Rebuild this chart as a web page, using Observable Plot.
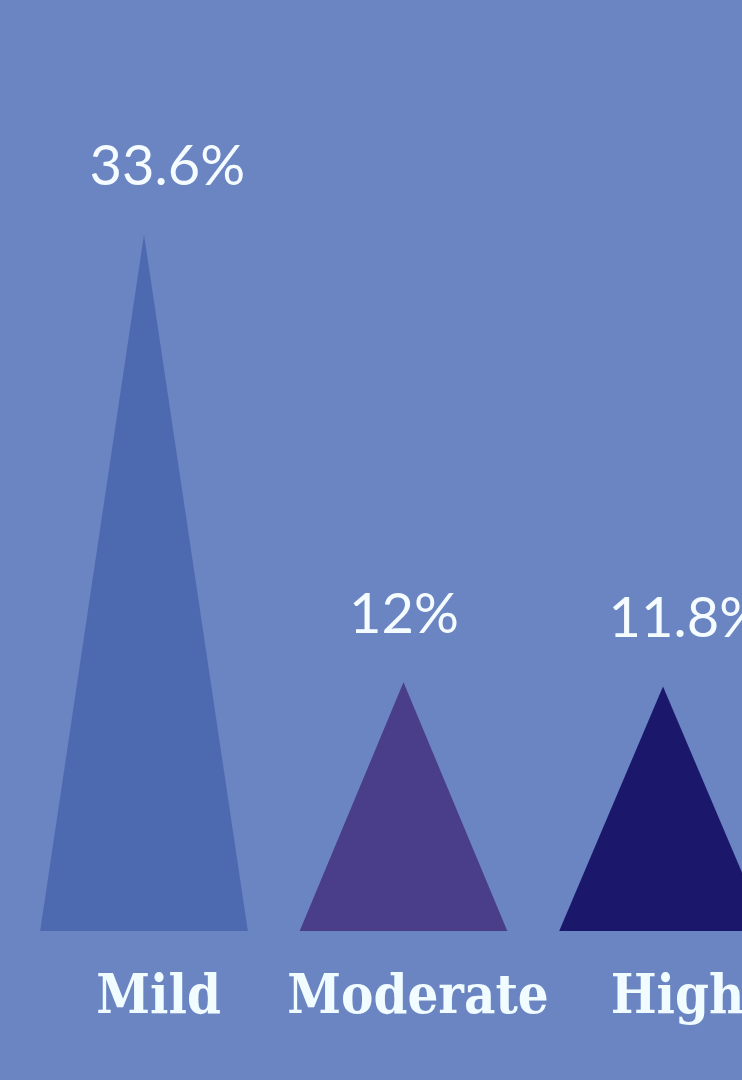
<!DOCTYPE html>
<html>
<head>
<meta charset="utf-8">
<script src="https://cdn.jsdelivr.net/npm/d3@7"></script>
<script src="https://cdn.jsdelivr.net/npm/@observablehq/plot@0.6"></script>
<style>
  html, body { margin: 0; padding: 0; background: #6b84c2; }
  #chart svg { display: block; background: #6b84c2; }
</style>
</head>
<body>
<div id="chart"></div>
<script>
const categories = ["Mild", "Moderate", "High"];
const values = [33.6, 12, 11.8];
const valueLabels = ["33.6%", "12%", "11.8%"];
const colors = ["#4d69b0", "#4a3d8a", "#1b186c"];

const rows = categories.map((c, i) => ({category: c, index: i, value: values[i], label: valueLabels[i], color: colors[i]}));

// triangle outline points derived from data: base corners at ±0.4 of a slot, apex at value
const half = 0.4;
const tri = rows.flatMap(r => [
  {category: r.category, x: r.index - half, y: 0, color: r.color},
  {category: r.category, x: r.index, y: r.value, color: r.color},
  {category: r.category, x: r.index + half, y: 0, color: r.color}
]);

const W = 742, H = 1080;
const slot = 259.5, firstCenter = 144;

const chart = Plot.plot({
  width: W,
  height: H,
  marginLeft: 0,
  marginRight: 0,
  marginTop: 102,
  marginBottom: 149,
  style: {background: "#6b84c2", overflow: "hidden"},
  x: {domain: [-firstCenter / slot, (W - firstCenter) / slot], axis: null},
  y: {domain: [0, 40], axis: null},
  marks: [
    Plot.areaY(tri, {x: "x", y: "y", z: "category", fill: "color", curve: "linear", clip: true}),
    Plot.text(rows, {
      x: "index", y: "value", text: "label",
      textAnchor: "start", lineAnchor: "bottom", dx: -55, dy: -50,
      fill: "#f5fcff", fontSize: 56, fontWeight: 400,
      fontFamily: "Lato, 'Noto Sans', sans-serif"
    }),
    Plot.text(rows, {
      x: "index", y: 0, text: "category",
      textAnchor: "middle", lineAnchor: "bottom", dx: 14, dy: 81,
      fill: "#f0fcff", fontSize: 54, fontWeight: 700,
      fontFamily: "'DejaVu Serif Condensed', 'DejaVu Serif', serif",
      fontStretch: "condensed"
    })
  ]
});
document.getElementById("chart").appendChild(chart);
</script>
</body>
</html>
